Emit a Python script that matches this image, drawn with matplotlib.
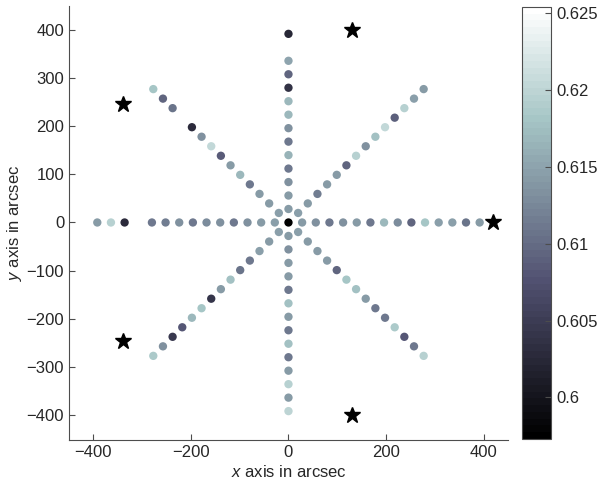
import numpy as np
import matplotlib
matplotlib.use('Agg')
import matplotlib.pyplot as plt

plt.rcParams['font.family'] = ['Liberation Sans', 'DejaVu Sans']
plt.rcParams['mathtext.fontset'] = 'custom'
plt.rcParams['mathtext.it'] = 'Liberation Sans:italic'
plt.rcParams['mathtext.rm'] = 'Liberation Sans'

# radial positions along each arm (arcsec)
radius = [28, 56, 84, 112, 140, 168, 196, 224, 252, 280, 308, 336, 364, 392]
arm_angle_deg = [0, 45, 90, 135, 180, 225, 270, 315]

# values along each arm, from the centre outwards (nan = no measurement)
val_0 = [0.614, 0.6135, 0.611, 0.6135, 0.614, 0.611, 0.617, 0.613, 0.6095, 0.618, 0.6145, 0.6145, 0.6105, 0.614]
val_45 = [0.6145, 0.614, 0.6115, 0.614, 0.614, 0.6095, 0.6195, 0.6135, 0.6175, 0.6205, 0.609, 0.6195, 0.6145, 0.614]
val_90 = [0.614, 0.614, 0.6135, 0.611, 0.6165, 0.611, 0.6135, 0.617, 0.617, 0.6035, 0.6095, 0.615, 0.6254, 0.6025]
val_135 = [0.6145, 0.614, 0.614, 0.611, 0.617, 0.614, 0.6085, 0.6205, 0.6135, 0.603, np.nan, 0.6105, 0.6095, 0.618]
val_180 = [0.6145, 0.614, 0.6135, 0.611, 0.6135, 0.613, 0.611, 0.6135, 0.6115, 0.611, np.nan, 0.603, 0.6195, 0.614]
val_225 = [0.6145, 0.614, 0.6145, 0.611, 0.6105, 0.6175, 0.614, 0.604, 0.618, 0.617, 0.608, 0.6045, 0.6135, 0.6185]
val_270 = [0.614, 0.6135, 0.614, 0.614, 0.611, 0.6175, 0.614, 0.611, 0.6175, 0.611, 0.614, 0.6195, 0.614, 0.62]
val_315 = [0.6145, 0.614, 0.614, 0.614, 0.6095, 0.618, 0.6175, 0.614, 0.611, 0.611, 0.6185, 0.608, 0.611, 0.6195]
val_centre = 0.5973

# reference stars
star_x = [420, 130, -340, -340, 130]
star_y = [0, 400, 247, -247, -400]

arms = [val_0, val_45, val_90, val_135, val_180, val_225, val_270, val_315]

xs, ys, cs = [0.0], [0.0], [val_centre]
for ang, vals in zip(arm_angle_deg, arms):
    a = np.deg2rad(ang)
    for r, v in zip(radius, vals):
        if np.isnan(v):
            continue
        xs.append(r * np.cos(a))
        ys.append(r * np.sin(a))
        cs.append(v)
xs, ys, cs = np.array(xs), np.array(ys), np.array(cs)

axcol = '#4d4d4d'
fig = plt.figure(figsize=(5.98, 4.91), dpi=100)
ax = fig.add_axes([0.1154, 0.1039, 0.734, 0.884])
cax = fig.add_axes([0.873, 0.106, 0.0485, 0.880])

sc = ax.scatter(xs, ys, c=cs, cmap=plt.get_cmap('bone', 64), s=36,
                linewidths=0, zorder=2)
ax.plot(star_x, star_y, '*', color='k', ms=12, zorder=3)

ax.set_xlim(-450, 450)
ax.set_ylim(-452, 450)
ax.set_xticks([-400, -200, 0, 200, 400])
ax.set_yticks(np.arange(-400, 401, 100))
for side in ['top', 'right']:
    ax.spines[side].set_visible(False)
for side in ['left', 'bottom']:
    ax.spines[side].set_color(axcol)
    ax.spines[side].set_linewidth(0.8)
ax.tick_params(direction='in', length=4, color=axcol, labelsize=12,
               labelcolor='#262626')
ax.set_xlabel(r'$\it{x}$ axis in arcsec', fontsize=12, color='#262626', labelpad=3)
ax.set_ylabel(r'$\it{y}$ axis in arcsec', fontsize=12, color='#262626', labelpad=2)

cb = fig.colorbar(sc, cax=cax)
cb.set_ticks([0.6, 0.605, 0.61, 0.615, 0.62, 0.625])
cb.set_ticklabels(['0.6', '0.605', '0.61', '0.615', '0.62', '0.625'])
cb.outline.set_edgecolor(axcol)
cb.outline.set_linewidth(0.8)
cax.tick_params(direction='in', length=4, color=axcol, labelsize=12,
                labelcolor='#262626')

fig.savefig('out.png', dpi=100)
